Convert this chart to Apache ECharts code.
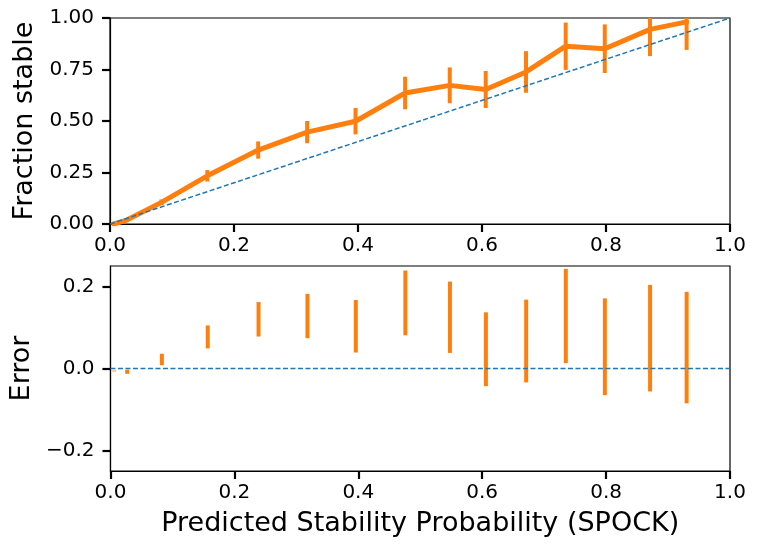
<!DOCTYPE html>
<html>
<head>
    <meta charset="utf-8">
    <title>Calibration</title>
    <script src="https://cdn.jsdelivr.net/npm/echarts@6/dist/echarts.min.js"></script>
    <style type="text/css">
        html, body{
            margin: 0;
            padding: 0;
            background: #fff;
        }
        #main{
            width: 758px;
            height: 549px;
        }
    </style>
</head>
<body>
<div id="main"></div>
<script>
    // values
    var predicted = [0.006, 0.027, 0.083, 0.157, 0.239, 0.318, 0.396, 0.476, 0.548, 0.606, 0.671, 0.735, 0.798, 0.871, 0.930];
    var fraction  = [0.000, 0.019, 0.105, 0.234, 0.359, 0.446, 0.499, 0.636, 0.673, 0.653, 0.738, 0.863, 0.851, 0.945, 0.981];
    var halfErr   = [0.001, 0.005, 0.014, 0.028, 0.042, 0.054, 0.064, 0.079, 0.087, 0.090, 0.101, 0.115, 0.118, 0.130, 0.136];
    var xTicks = [0, 0.2, 0.4, 0.6, 0.8, 1.0];
    var topTicks = [0, 0.25, 0.5, 0.75, 1.0];
    var errTicks = [-0.2, 0, 0.2];

    var orange = '#ff7f0e';
    var blue = '#1f77b4';
    var font = 'DejaVu Sans';

    var linePts = [], topBars = [], errBars = [];
    for (var i = 0; i < predicted.length; i++) {
        linePts.push([predicted[i], fraction[i]]);
        topBars.push([predicted[i], fraction[i] - halfErr[i], fraction[i] + halfErr[i]]);
        var d = fraction[i] - predicted[i];
        errBars.push([predicted[i], d - halfErr[i], d + halfErr[i]]);
    }

    function fmt(digits) {
        return function (v) {
            var s = Math.abs(v).toFixed(digits);
            return v < -1e-9 ? '\u2212' + s : s;
        };
    }

    // vertical error bar, clipped to the plot box
    function barRender(params, api) {
        var cs = params.coordSys;
        var a = api.coord([api.value(0), api.value(1)]);
        var b = api.coord([api.value(0), api.value(2)]);
        var y1 = Math.max(cs.y, Math.min(cs.y + cs.height, a[1]));
        var y2 = Math.max(cs.y, Math.min(cs.y + cs.height, b[1]));
        return {
            type: 'line',
            shape: {x1: a[0], y1: y1, x2: a[0], y2: y2},
            style: {stroke: orange, lineWidth: 4}
        };
    }

    function xAxis(idx, showName) {
        return {
            gridIndex: idx, type: 'value', min: 0, max: 1, interval: 0.2,
            name: showName ? 'Predicted Stability Probability (SPOCK)' : '',
            nameLocation: 'middle', nameGap: 39,
            nameTextStyle: {fontFamily: font, fontSize: 27, color: '#000'},
            axisLine: {show: true, onZero: false, lineStyle: {color: '#000', width: 1.2}},
            axisTick: {show: true, length: 8, lineStyle: {color: '#000', width: 2.2}},
            axisLabel: {fontFamily: font, fontSize: 20, color: '#000', margin: 12, formatter: fmt(1), customValues: xTicks},
            splitLine: {show: false}
        };
    }

    var myChart = echarts.init(document.getElementById('main'), null, {renderer: 'canvas'});
    var option = {
        animation: false,
        backgroundColor: '#fff',
        grid: [
            {left: 110, top: 18, width: 620, height: 206, show: true, borderColor: '#000', borderWidth: 1.2},
            {left: 110, top: 266, width: 620, height: 205, show: true, borderColor: '#000', borderWidth: 1.2}
        ],
        xAxis: [xAxis(0, false), xAxis(1, true)],
        yAxis: [
            {
                gridIndex: 0, type: 'value', min: 0, max: 1, interval: 0.25,
                name: 'Fraction stable', nameLocation: 'middle', nameGap: 67,
                nameTextStyle: {fontFamily: font, fontSize: 27, color: '#000'},
                axisLine: {show: true, lineStyle: {color: '#000', width: 1.2}},
                axisTick: {show: true, length: 8, lineStyle: {color: '#000', width: 2.2}},
                axisLabel: {fontFamily: font, fontSize: 20, color: '#000', margin: 16, formatter: fmt(2), customValues: topTicks},
                splitLine: {show: false}
            },
            {
                gridIndex: 1, type: 'value', min: -0.25, max: 0.25,
                name: 'Error', nameLocation: 'middle', nameGap: 73,
                nameTextStyle: {fontFamily: font, fontSize: 27, color: '#000'},
                axisLine: {show: true, onZero: false, lineStyle: {color: '#000', width: 1.2}},
                axisTick: {show: true, length: 8, lineStyle: {color: '#000', width: 2.2}, customValues: errTicks},
                axisLabel: {fontFamily: font, fontSize: 20, color: '#000', margin: 16, formatter: fmt(1), customValues: errTicks},
                splitLine: {show: false}
            }
        ],
        series: [
            {
                type: 'line', xAxisIndex: 0, yAxisIndex: 0, data: linePts,
                showSymbol: false, symbol: 'none',
                lineStyle: {color: orange, width: 5, join: 'round', cap: 'round'},
                z: 2
            },
            {
                type: 'custom', xAxisIndex: 0, yAxisIndex: 0, data: topBars,
                renderItem: barRender, z: 3
            },
            {
                type: 'line', xAxisIndex: 0, yAxisIndex: 0, data: [[0, 0], [1, 1]],
                showSymbol: false, symbol: 'none',
                lineStyle: {color: blue, width: 1.5, type: [5, 2.5]},
                z: 4
            },
            {
                type: 'custom', xAxisIndex: 1, yAxisIndex: 1, data: errBars,
                renderItem: barRender, z: 3
            },
            {
                type: 'line', xAxisIndex: 1, yAxisIndex: 1, data: [[0, 0], [1, 0]],
                showSymbol: false, symbol: 'none',
                lineStyle: {color: blue, width: 1.5, type: [5, 2.5]},
                z: 4
            }
        ]
    };
    myChart.setOption(option);
</script>
</body>
</html>
